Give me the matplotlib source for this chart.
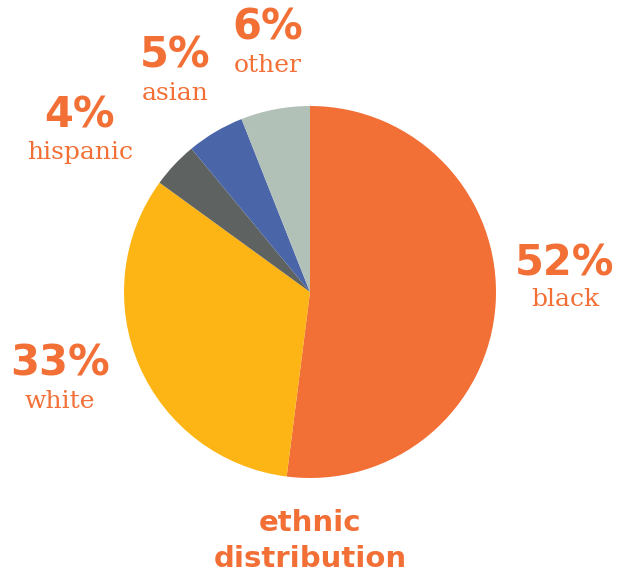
import matplotlib
matplotlib.use("Agg")
import matplotlib.pyplot as plt

categories = ["black", "white", "hispanic", "asian", "other"]
values = [52, 33, 4, 5, 6]
pct_labels = ["52%", "33%", "4%", "5%", "6%"]
colors = ["#F26F36", "#FDB515", "#5E6361", "#4A66A8", "#B2C1B8"]
title = "ethnic\ndistribution"

W, H = 621, 577
fig = plt.figure(figsize=(W / 100, H / 100), dpi=100)
ax = fig.add_axes([0, 0, 1, 1])

ax.pie(values, colors=colors, startangle=90, counterclock=False,
       center=(310, H - 292), radius=186, frame=True,
       wedgeprops=dict(linewidth=0))
ax.set_xlim(0, W)
ax.set_ylim(0, H)
ax.set_aspect("equal")
ax.axis("off")

orange = "#F26F36"
label_pos = {
    "black": (565, 263, 300),
    "white": (60, 364, 402),
    "hispanic": (80, 116, 152),
    "asian": (175, 56, 94),
    "other": (268, 28, 66),
}
for cat, pct in zip(categories, pct_labels):
    x, yp, yl = label_pos[cat]
    ax.text(x, H - yp, pct, ha="center", va="center", color=orange,
            fontsize=30, fontweight="bold", family="DejaVu Sans")
    ax.text(x, H - yl, cat, ha="center", va="center", color=orange,
            fontsize=18, family="DejaVu Serif", fontweight="light")

ax.text(310, H - 541, title, ha="center", va="center", color=orange,
        fontsize=21, fontweight="bold", family="DejaVu Sans", linespacing=1.4)

fig.savefig("out.png", dpi=100)
